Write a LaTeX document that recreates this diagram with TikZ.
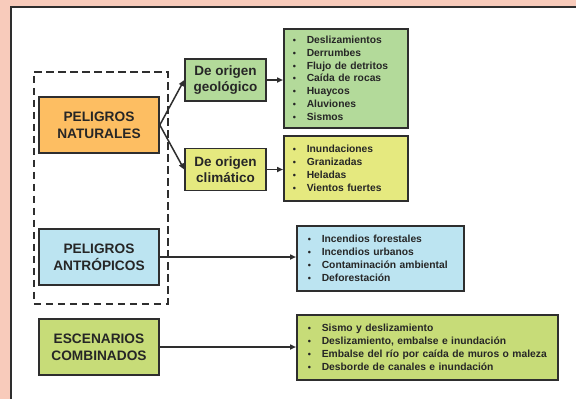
\documentclass[tikz,border=0pt]{standalone}
\usepackage{fontspec}
\setmainfont{Liberation Sans}
\usetikzlibrary{arrows.meta}
\definecolor{pinkbg}{HTML}{F8CBBB}
\definecolor{boxline}{HTML}{2E2E2E}
\definecolor{txt}{HTML}{262626}
\definecolor{cnat}{HTML}{FDBE62}
\definecolor{cgeo}{HTML}{B3DA9A}
\definecolor{cclim}{HTML}{E5E97F}
\definecolor{cant}{HTML}{BCE4F1}
\definecolor{ccomb}{HTML}{C7DC78}
\newcommand{\itm}[1]{\makebox[14pt][l]{{\fontsize{9}{9}\selectfont•}}#1}
\begin{document}
\begin{tikzpicture}[x=1pt,y=-1pt,
  box/.style={draw=boxline, line width=1.6pt, text=txt, font=\bfseries\fontsize{13.7}{17}\selectfont, align=center, inner sep=0pt},
  subbox/.style={box, font=\bfseries\fontsize{13.5}{15.5}\selectfont, minimum width=81pt, minimum height=42pt},
  listbox/.style={draw=boxline, line width=1.6pt, text=txt, font=\bfseries\fontsize{10.3}{12.9}\selectfont, align=left, anchor=north west, inner ysep=0pt},
  arr/.style={-{Triangle[length=6pt,width=5pt]}, line width=1.5pt, draw=boxline}]
\useasboundingbox (0,0) rectangle (576,399);
\fill[pinkbg] (0,0) rectangle (576,399);
\draw[fill=white, draw=boxline, line width=1.2pt] (11,7) rectangle (590,410);
% dashed group
\node[draw=boxline, dash pattern=on 7.5pt off 4.5pt, line width=1.6pt, minimum width=134pt, minimum height=232pt, anchor=north west, inner sep=0pt] (grp) at (33,71) {};
% main boxes
\node[box, fill=cnat, minimum width=120pt, minimum height=56pt] (nat) at (99,125) {PELIGROS\\NATURALES};
\node[box, fill=cant, minimum width=120pt, minimum height=56pt] (ant) at (99,257) {PELIGROS\\ANTRÓPICOS};
\node[box, fill=ccomb, minimum width=120pt, minimum height=56pt] (esc) at (99,347) {ESCENARIOS\\COMBINADOS};
% sub boxes
\node[subbox, fill=cgeo] (geo) at (225.5,80) {De origen\\geológico};
\node[subbox, fill=cclim] (clim) at (225.5,169.5) {De origen\\climático};
% list boxes
\node[listbox, fill=cgeo, inner xsep=9pt, text width=106pt, minimum height=99pt] (geolist) at (283,28)
  {\itm{Deslizamientos}\\\itm{Derrumbes}\\\itm{Flujo de detritos}\\\itm{Caída de rocas}\\\itm{Huaycos}\\\itm{Aluviones}\\\itm{Sismos}};
\node[listbox, fill=cclim, inner xsep=9pt, text width=106pt, minimum height=65pt] (climlist) at (283,135)
  {\itm{Inundaciones}\\\itm{Granizadas}\\\itm{Heladas}\\\itm{Vientos fuertes}};
\node[listbox, fill=cant, inner xsep=11pt, text width=145pt, minimum height=65pt] (antlist) at (296,225)
  {\itm{Incendios forestales}\\\itm{Incendios urbanos}\\\itm{Contaminación ambiental}\\\itm{Deforestación}};
\node[listbox, fill=ccomb, inner xsep=11pt, text width=239pt, minimum height=65pt] (esclist) at (296,314)
  {\itm{Sismo y deslizamiento}\\\itm{Deslizamiento, embalse e inundación}\\\itm{Embalse del río por caída de muros o maleza}\\\itm{Desborde de canales e inundación}};
% connectors
\draw[arr] (nat.east) -- (geo.west);
\draw[arr] (nat.east) -- (clim.west);
\draw[arr] (geo.east) -- (geo.east -| geolist.west);
\draw[arr] (clim.east) -- (clim.east -| climlist.west);
\draw[arr] (ant.east) -- (ant.east -| antlist.west);
\draw[arr] (esc.east) -- (esc.east -| esclist.west);
\end{tikzpicture}
\end{document}
